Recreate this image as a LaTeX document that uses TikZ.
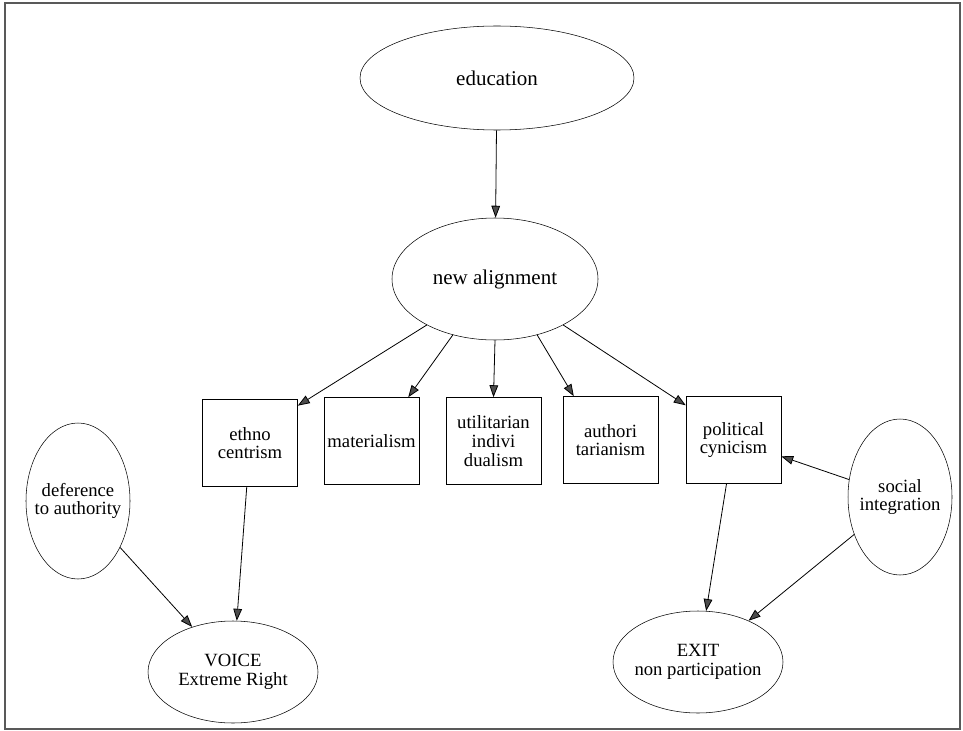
\documentclass[tikz,border=0pt]{standalone}
\usepackage{fontspec}
\setmainfont{Liberation Serif}
\newfontfamily\nodefont{Liberation Serif}
\usetikzlibrary{shapes,arrows.meta}

\begin{document}
\begin{tikzpicture}[x=0.75pt,y=-0.75pt,
    oval/.style={draw,ellipse,inner xsep=-8pt,inner ysep=0pt,align=center,font=\nodefont\fontsize{14}{14}\selectfont},
    bigoval/.style={oval,font=\nodefont\fontsize{15.75}{17}\selectfont},
    varbox/.style={draw,rectangle,minimum width=71.25pt,minimum height=65.25pt,inner sep=2pt,align=center,font=\nodefont\fontsize{14}{14}\selectfont},
    link/.style={-{Triangle[length=9pt,width=6.5pt,fill=black!70]},line width=0.6pt}]
    \useasboundingbox (0,0) rectangle (963,731);
    % Frame
    \draw[line width=1.5pt,black!65] (5,3) rectangle (960,729);

    % Top
    \node[bigoval,minimum width=205.5pt,minimum height=78pt] (edu) at (497,78) {education};
    \node[bigoval,minimum width=154.5pt,minimum height=91.5pt] (align) at (495,279) {new alignment};

    % Attitudes
    \node[varbox] (ethno) at (250,443) {ethno\\centrism};
    \node[varbox] (mat) at (371.5,441) {materialism};
    \node[varbox] (util) at (493.5,441) {utilitarian\\indivi\\dualism};
    \node[varbox] (auth) at (610.5,440) {authori\\tarianism};
    \node[varbox] (cyn) at (733.5,440) {political\\cynicism};

    % Side factors
    \node[oval,minimum width=78pt,minimum height=117pt] (defer) at (78,501) {deference\\to authority};
    \node[oval,minimum width=78pt,minimum height=117pt] (social) at (900,497) {social\\integration};

    % Outcomes
    \node[oval,minimum width=127.5pt,minimum height=76.5pt] (voice) at (233,672) {VOICE\\Extreme Right};
    \node[oval,minimum width=127.5pt,minimum height=76.5pt] (exit) at (698,662) {EXIT\\non participation};

    % Arrows
    \draw[link] (edu) -- (align);
    \draw[link] (align.214) -- (ethno.38);
    \draw[link] (align.233) -- (mat.50);
    \draw[link] (align.south) -- (util.north);
    \draw[link] (align.307) -- (auth.130);
    \draw[link] (align.326) -- (cyn.144);
    \draw[link] (ethno) -- (voice);
    \draw[link] (defer) -- (voice);
    \draw[link] (cyn) -- (exit);
    \draw[link] (social) -- (cyn);
    \draw[link] (social) -- (exit);
\end{tikzpicture}
\end{document}
